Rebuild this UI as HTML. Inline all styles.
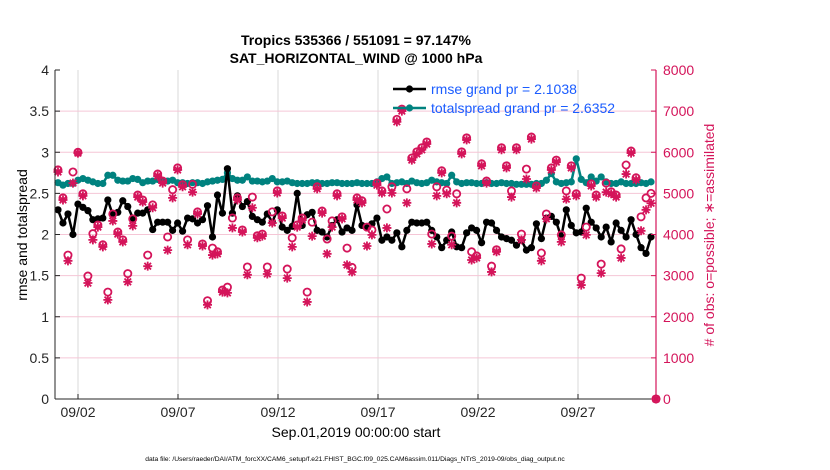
<!DOCTYPE html>
<html><head><meta charset="utf-8"><style>
html,body{margin:0;padding:0;background:#fff;}
svg{display:block;font-family:"Liberation Sans",sans-serif;}
</style></head><body>
<svg id="chart" width="830" height="470" viewBox="0 0 830 470" xmlns="http://www.w3.org/2000/svg">
<rect x="0" y="0" width="830" height="470" fill="#fff"/>
<g id="grid"></g>
<g id="series"></g>
<g id="axes"></g>
<text x="356" y="45" text-anchor="middle" font-size="14" font-weight="bold">Tropics 535366 / 551091 = 97.147%</text>
<text x="356" y="63" text-anchor="middle" font-size="14" font-weight="bold">SAT_HORIZONTAL_WIND @ 1000 hPa</text>
<text x="356" y="437" text-anchor="middle" font-size="14">Sep.01,2019 00:00:00 start</text>
<text x="0" y="0" transform="translate(27,235) rotate(-90)" text-anchor="middle" font-size="14">rmse and totalspread</text>
<text x="0" y="0" transform="translate(714,235) rotate(-90)" text-anchor="middle" font-size="14" fill="#d4145a"># of obs: o=possible; ∗=assimilated</text>
<text x="355" y="461" text-anchor="middle" font-size="6.7">data file: /Users/raeder/DAI/ATM_forcXX/CAM6_setup/f.e21.FHIST_BGC.f09_025.CAM6assim.011/Diags_NTrS_2019-09/obs_diag_output.nc</text>
<g id="legend"></g>
</svg>
<script>
const rmse=[2.30,2.14,2.25,2.0,2.37,2.33,2.29,2.18,2.19,2.2,2.42,2.24,2.27,2.41,2.34,2.2,2.26,2.26,2.3,2.06,2.15,2.15,2.15,2.05,2.14,2.04,2.2,2.19,2.14,2.18,2.35,
1.97,2.48,2.26,2.8,2.26,2.47,2.34,2.4,2.22,2.18,2.15,2.25,2.15,2.3,2.09,2.05,2.1,2.5,2.11,2.24,2.27,2.05,2.03,1.97,2.11,2.18,2.03,2.08,2.05,2.36,
2.11,2.08,2.13,2.2,1.93,1.97,1.93,2.02,1.85,2.05,2.15,2.14,2.14,2.15,2.05,1.97,1.84,1.93,2.03,1.85,1.84,2.02,2.08,2.05,1.9,2.15,2.14,2.05,1.97,1.95,
1.93,1.87,1.93,1.81,1.84,2.13,1.95,2.2,2.22,2.15,1.97,2.3,2.11,2.02,2.03,2.32,2.15,2.08,1.97,2.09,1.91,2.14,2.05,1.97,2.18,2.0,1.84,1.77,1.97];
const spread=[2.63,2.6,2.62,2.62,2.66,2.68,2.66,2.64,2.62,2.62,2.72,2.72,2.66,2.65,2.65,2.68,2.67,2.63,2.65,2.65,2.67,2.65,2.65,2.66,2.63,2.63,2.62,2.63,2.63,2.62,2.64,
2.65,2.66,2.67,2.75,2.68,2.66,2.66,2.7,2.65,2.65,2.64,2.65,2.68,2.64,2.64,2.65,2.63,2.62,2.62,2.62,2.63,2.63,2.62,2.62,2.63,2.63,2.62,2.62,2.62,2.63,
2.62,2.62,2.62,2.64,2.68,2.7,2.62,2.63,2.64,2.62,2.65,2.63,2.62,2.63,2.66,2.64,2.63,2.62,2.72,2.64,2.62,2.63,2.63,2.62,2.62,2.63,2.62,2.62,2.63,2.62,
2.62,2.61,2.61,2.61,2.61,2.62,2.62,2.66,2.74,2.64,2.62,2.63,2.64,2.92,2.67,2.63,2.7,2.65,2.7,2.64,2.62,2.62,2.64,2.62,2.62,2.62,2.63,2.62,2.64];
const obsAssim=[5520,4840,3360,5250,5980,4940,2820,3870,4180,3700,2410,4330,4010,3820,2850,4210,4910,4790,3230,4650,5420,5250,3620,4890,5570,5160,3750,5030,4500,3720,2290,
3500,3530,2600,2580,4160,4840,4060,3020,4650,3920,3960,3040,4280,5010,4400,2940,3700,4180,4350,2360,3960,5110,4520,3530,4180,4940,4380,3260,3090,4840,
4770,3720,3990,5200,5010,4160,5010,6740,7000,4770,5810,5960,6060,6200,3770,4940,5500,4990,3750,4770,5960,6300,3380,3430,5670,5250,3090,3580,6060,5620,
4910,6060,3870,5350,6320,5130,3360,4380,5570,5760,3820,4860,5620,4940,2770,3990,5180,4910,3060,5030,4990,4910,3430,5470,5980,5330,4090,4600,4760,0];
const obsPoss=[5570,4890,3500,5520,6000,4990,2990,4020,4230,3750,2600,4500,4060,3870,3050,4380,4960,4840,3500,4720,5470,5300,3940,5090,5620,5210,3870,5220,4550,3770,2390,
3670,3580,2650,2720,4400,4890,4110,3210,4910,3970,4010,3210,4550,5060,4450,3160,3920,4230,4400,2600,4300,5160,4570,3890,4330,4990,4430,3670,3200,4890,
4820,4180,4110,5250,5060,4620,5160,6800,7050,5110,5860,6010,6110,6250,4010,5160,5550,5080,3960,4990,6010,6350,3580,3480,5720,5300,3230,3630,6110,5670,
5060,6110,4010,5590,6370,5180,3550,4500,5620,5810,3990,5060,5670,4990,2940,4180,5230,4960,3280,5250,5040,4960,3650,5690,6030,5380,4430,4890,5000,0];
const leftTicks=[0,0.5,1,1.5,2,2.5,3,3.5,4];
const leftTickLabels=["0","0.5","1","1.5","2","2.5","3","3.5","4"];
const rightTicks=[0,1000,2000,3000,4000,5000,6000,7000,8000];
const dateTickDays=[1,6,11,16,21,26];
const dateTickLabels=["09/02","09/07","09/12","09/17","09/22","09/27"];
const legendLabels=["rmse grand pr = 2.1038","totalspread grand pr = 2.6352"];

const NS="http://www.w3.org/2000/svg";
const X0=55,X1=656,Y0=399,Y1=70;
function xDay(d){return 58+d*20;}
function xIdx(i){return 58+i*(598/120);}
function yL(v){return Y0-(v/4)*(Y0-Y1);}
function yR(v){return Y0-(v/8000)*(Y0-Y1);}
function mk(tag,attrs,parent){const e=document.createElementNS(NS,tag);for(const k in attrs)e.setAttribute(k,attrs[k]);parent.appendChild(e);return e;}
const grid=document.getElementById('grid'),series=document.getElementById('series'),axes=document.getElementById('axes'),legend=document.getElementById('legend');
const CR="#d4145a",TEAL="#00827f";

dateTickDays.forEach((d,k)=>{
  const l=mk('line',{x1:xDay(d),x2:xDay(d),y1:Y1,y2:Y0,stroke:"#d9d9d9","stroke-width":1},grid);
  
  
});
rightTicks.forEach(v=>{
  if(v===0||v===8000)return;
  const l=mk('line',{x1:X0,x2:X1,y1:yR(v),y2:yR(v),stroke:"#f5c6d6","stroke-width":1},grid);
  
  
});

function drawLine(vals,color,name){
  const pts=vals.map((v,i)=>xIdx(i).toFixed(1)+","+yL(v).toFixed(1)).join(" ");
  const pl=mk('polyline',{points:pts,fill:"none",stroke:color,"stroke-width":2.5,"stroke-linejoin":"round"},series);
  
  
  vals.forEach((v,i)=>{
    const c=mk('circle',{cx:xIdx(i),cy:yL(v),r:3.6,fill:color},series);
    
    
  });
}
drawLine(spread,TEAL,'totalspread');
drawLine(rmse,"#000",'rmse');

obsPoss.forEach((v,i)=>{
  const c=mk('circle',{cx:xIdx(i),cy:yR(v),r:3.6,fill:"none",stroke:CR,"stroke-width":1.8},series);
  
  
});
obsAssim.forEach((v,i)=>{
  const x=xIdx(i),y=yR(v),s=4.5,d=3.3;
  const p=mk('path',{d:`M${x-s},${y}H${x+s}M${x},${y-s}V${y+s}M${x-d},${y-d}L${x+d},${y+d}M${x-d},${y+d}L${x+d},${y-d}`,stroke:CR,"stroke-width":1.8,fill:"none"},series);
  
  
});

let a=mk('line',{x1:X0,x2:X0,y1:Y1,y2:Y0,stroke:"#262626","stroke-width":1},axes);


a=mk('line',{x1:X0,x2:X1,y1:Y0,y2:Y0,stroke:"#262626","stroke-width":1},axes);


a=mk('line',{x1:X1,x2:X1,y1:Y1,y2:Y0,stroke:CR,"stroke-width":1.2},axes);


leftTicks.forEach((v,k)=>{
  const t=mk('line',{x1:X0,x2:X0+5,y1:yL(v),y2:yL(v),stroke:"#262626"},axes);
  
  
  const tx=mk('text',{x:X0-6,y:yL(v)+5,"text-anchor":"end","font-size":14,fill:"#262626"},axes);
  tx.textContent=leftTickLabels[k];
  
  
});
rightTicks.forEach(v=>{
  const t=mk('line',{x1:X1-5,x2:X1,y1:yR(v),y2:yR(v),stroke:CR},axes);
  
  
  const tx=mk('text',{x:X1+7,y:yR(v)+5,"text-anchor":"start","font-size":14,fill:CR},axes);
  tx.textContent=String(v);
  
  
});
dateTickDays.forEach((d,k)=>{
  const t=mk('line',{x1:xDay(d),x2:xDay(d),y1:Y0,y2:Y0-5,stroke:"#262626"},axes);
  
  
  const tx=mk('text',{x:xDay(d),y:Y0+18,"text-anchor":"middle","font-size":14,fill:"#262626"},axes);
  tx.textContent=dateTickLabels[k];
  
  
});

[["#000",89],[TEAL,108]].forEach((e,k)=>{
  const l=mk('line',{x1:393,x2:426,y1:e[1],y2:e[1],stroke:e[0],"stroke-width":2.5},legend);
  
  
  const c=mk('circle',{cx:409.5,cy:e[1],r:3.6,fill:e[0]},legend);
  
  
  const t=mk('text',{x:431,y:e[1]+5,"font-size":14,fill:"#1a5cff"},legend);
  t.textContent=legendLabels[k];
  
  
});
</script>
</body></html>
